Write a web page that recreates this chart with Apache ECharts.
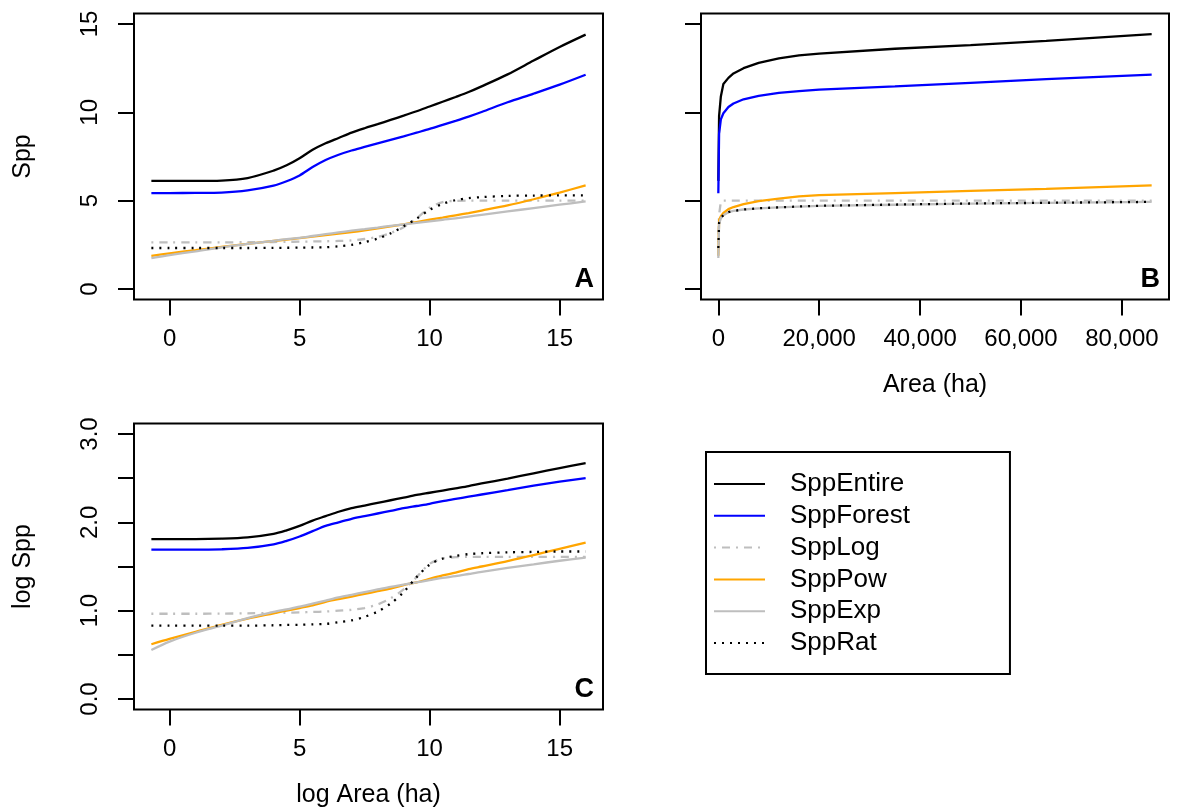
<!DOCTYPE html>
<html><head><meta charset="utf-8">
<script src="https://cdn.jsdelivr.net/npm/echarts@6/dist/echarts.min.js"></script>
<style>html,body{margin:0;padding:0;background:#fff}#c{width:1181px;height:810px}</style>
</head><body><div id="c"></div>
<script>
// ---------- data ----------
const seriesNames = ['SppEntire', 'SppForest', 'SppLog', 'SppPow', 'SppExp', 'SppRat'];

// Panels A and C: x = log Area (ha)
const logArea = [-0.7, 0, 1, 2, 3, 4, 4.5, 5, 5.5, 6, 6.5, 7, 7.5, 8, 8.5, 9, 9.5, 10, 10.5, 11, 11.5, 12, 13, 14, 15, 16];

// Panel A: Spp
const A_Entire = [6.12, 6.12, 6.12, 6.14, 6.28, 6.7, 7.0, 7.4, 7.88, 8.25, 8.55, 8.85, 9.1, 9.33, 9.57, 9.81, 10.06, 10.33, 10.6, 10.87, 11.15, 11.47, 12.15, 12.93, 13.7, 14.4];
const A_Forest = [5.43, 5.43, 5.44, 5.46, 5.58, 5.85, 6.1, 6.43, 6.9, 7.3, 7.6, 7.84, 8.04, 8.24, 8.44, 8.64, 8.85, 9.06, 9.29, 9.52, 9.76, 10.02, 10.57, 11.06, 11.57, 12.13];
const A_Log    = [2.64, 2.64, 2.64, 2.64, 2.65, 2.66, 2.67, 2.68, 2.69, 2.7, 2.72, 2.75, 2.83, 2.95, 3.17, 3.5, 4.0, 4.6, 4.92, 4.99, 5.0, 5.0, 5.0, 5.0, 5.0, 5.0];
const A_Pow    = [1.88, 2.02, 2.2, 2.38, 2.55, 2.72, 2.8, 2.88, 2.96, 3.05, 3.13, 3.22, 3.32, 3.43, 3.54, 3.66, 3.79, 3.92, 4.04, 4.17, 4.3, 4.44, 4.73, 5.08, 5.46, 5.86];
const A_Exp    = [1.75, 1.92, 2.13, 2.36, 2.55, 2.73, 2.82, 2.9, 3.0, 3.1, 3.2, 3.3, 3.39, 3.48, 3.57, 3.65, 3.74, 3.83, 3.92, 4.0, 4.1, 4.2, 4.39, 4.58, 4.77, 4.96];
const A_Rat    = [2.32, 2.32, 2.32, 2.32, 2.32, 2.33, 2.335, 2.34, 2.35, 2.36, 2.42, 2.5, 2.65, 2.85, 3.15, 3.55, 3.98, 4.48, 4.82, 5.03, 5.14, 5.2, 5.27, 5.29, 5.3, 5.3];

// Panel C: log Spp
const C_Entire = [1.81, 1.81, 1.81, 1.815, 1.83, 1.87, 1.91, 1.96, 2.02, 2.07, 2.12, 2.16, 2.19, 2.22, 2.25, 2.28, 2.31, 2.335, 2.36, 2.385, 2.41, 2.44, 2.495, 2.555, 2.615, 2.67];
const C_Forest = [1.69, 1.69, 1.69, 1.695, 1.71, 1.75, 1.79, 1.84, 1.9, 1.96, 2.0, 2.04, 2.07, 2.1, 2.13, 2.16, 2.185, 2.21, 2.24, 2.265, 2.29, 2.315, 2.365, 2.415, 2.46, 2.5];
const C_Log    = [0.965, 0.965, 0.965, 0.967, 0.97, 0.975, 0.977, 0.98, 0.985, 0.99, 1.0, 1.01, 1.03, 1.07, 1.14, 1.24, 1.38, 1.53, 1.59, 1.605, 1.61, 1.61, 1.61, 1.61, 1.61, 1.61];
const C_Pow    = [0.62, 0.68, 0.76, 0.84, 0.91, 0.97, 1.0, 1.03, 1.06, 1.1, 1.13, 1.16, 1.19, 1.22, 1.25, 1.29, 1.32, 1.36, 1.4, 1.43, 1.47, 1.5, 1.56, 1.63, 1.7, 1.77];
const C_Exp    = [0.555, 0.65, 0.75, 0.83, 0.915, 0.985, 1.015, 1.045, 1.08, 1.115, 1.15, 1.18, 1.21, 1.24, 1.27, 1.295, 1.32, 1.345, 1.37, 1.39, 1.415, 1.44, 1.485, 1.525, 1.565, 1.6];
const C_Rat    = [0.83, 0.83, 0.83, 0.83, 0.83, 0.835, 0.838, 0.84, 0.845, 0.85, 0.87, 0.89, 0.93, 0.99, 1.08, 1.21, 1.38, 1.52, 1.59, 1.62, 1.64, 1.65, 1.66, 1.665, 1.67, 1.67];

// Panel B: x = Area (ha)
const area = [0.5, 150, 500, 1000, 2000, 3000, 5000, 8000, 12000, 16000, 20000, 35000, 50000, 65000, 85900];
const B_Entire = [6.12, 9.8, 10.9, 11.6, 11.95, 12.2, 12.5, 12.8, 13.05, 13.22, 13.32, 13.6, 13.8, 14.05, 14.43];
const B_Forest = [5.42, 8.8, 9.6, 9.95, 10.3, 10.5, 10.74, 10.93, 11.1, 11.2, 11.28, 11.47, 11.67, 11.88, 12.13];
const B_Log    = [2.64, 4.2, 4.95, 5.0, 5.0, 5.0, 5.0, 5.0, 5.0, 5.0, 5.0, 5.0, 5.0, 5.0, 5.0];
const B_Pow    = [1.88, 3.9, 4.12, 4.3, 4.52, 4.64, 4.8, 4.97, 5.12, 5.24, 5.31, 5.43, 5.55, 5.67, 5.86];
const B_Exp    = [1.75, 3.7, 4.0, 4.18, 4.35, 4.42, 4.5, 4.56, 4.62, 4.66, 4.7, 4.77, 4.83, 4.88, 4.93];
const B_Rat    = [2.32, 3.75, 4.02, 4.18, 4.35, 4.42, 4.5, 4.57, 4.62, 4.67, 4.71, 4.78, 4.84, 4.88, 4.93];

// tick values
const ticksLogArea = [0, 5, 10, 15];
const ticksArea = [0, 20000, 40000, 60000, 80000];
const ticksSpp = [0, 5, 10, 15];
const ticksLogSppMarks = [0, 0.5, 1, 1.5, 2, 2.5, 3];
const ticksLogSppLabels = [0, 1, 2, 3];
const panelLetters = ['A', 'B', 'C'];

// ---------- layout / style ----------
const FONT = '"Liberation Sans", Arial, Helvetica, sans-serif';
const FS = 24;
const grids = [
  { left: 134, top: 13.4, width: 469, height: 286.2 },
  { left: 701, top: 13.4, width: 468, height: 286.2 },
  { left: 134, top: 423.4, width: 469, height: 286.2 }
];
const styles = {
  SppEntire: { color: '#000000', type: 'solid' },
  SppForest: { color: '#0000ff', type: 'solid' },
  SppLog:    { color: '#bebebe', type: [2, 6, 8, 6] },
  SppPow:    { color: '#ffa500', type: 'solid' },
  SppExp:    { color: '#bebebe', type: 'solid' },
  SppRat:    { color: '#000000', type: [2, 6] }
};

function pad(lo, hi) { const d = (hi - lo) * 0.04; return [lo - d, hi + d]; }
const xLogR = pad(-0.7, 16), xAreaR = pad(0, 85900), ySppR = pad(0, 15), yLogR = pad(0, 3);

const tickStyle = { show: true, inside: false, length: 16, lineStyle: { color: '#000', width: 2 } };
const labelBase = { fontSize: FS, color: '#000', fontFamily: FONT };

function xAxis(gi, range, ticks, name, fmt) {
  return {
    gridIndex: gi, type: 'value', position: 'bottom', min: range[0], max: range[1],
    axisLine: { show: false, onZero: false }, splitLine: { show: false },
    axisTick: Object.assign({ customValues: ticks }, tickStyle),
    axisLabel: Object.assign({ customValues: ticks, margin: 28, formatter: fmt }, labelBase),
    name: name, nameLocation: 'middle', nameGap: 73,
    nameTextStyle: { fontSize: 25, color: '#000', fontFamily: FONT }
  };
}
function yAxis(gi, range, marks, labels, name, showLabels, fmt) {
  return {
    gridIndex: gi, type: 'value', position: 'left', min: range[0], max: range[1],
    axisLine: { show: false, onZero: false }, splitLine: { show: false },
    axisTick: Object.assign({ customValues: marks }, tickStyle),
    axisLabel: Object.assign({ show: showLabels, customValues: labels, rotate: 90, margin: 32, formatter: fmt }, labelBase),
    name: name, nameLocation: 'middle', nameGap: 98, nameRotate: 90,
    nameTextStyle: { fontSize: 25, color: '#000', fontFamily: FONT }
  };
}

const panelData = [
  { xs: logArea, ys: [A_Entire, A_Forest, A_Log, A_Pow, A_Exp, A_Rat], smooth: 0.3 },
  { xs: area,    ys: [B_Entire, B_Forest, B_Log, B_Pow, B_Exp, B_Rat], smooth: false },
  { xs: logArea, ys: [C_Entire, C_Forest, C_Log, C_Pow, C_Exp, C_Rat], smooth: 0.3 }
];

const series = [];
panelData.forEach((p, gi) => {
  seriesNames.forEach((nm, si) => {
    const st = styles[nm];
    series.push({
      name: nm, type: 'line', xAxisIndex: gi, yAxisIndex: gi,
      data: p.xs.map((x, i) => [x, p.ys[si][i]]),
      symbol: 'none', smooth: p.smooth,
      lineStyle: { color: st.color, width: 2.3, type: st.type },
      itemStyle: { color: st.color },
      emphasis: { disabled: true }, silent: true
    });
  });
});

const letterGraphics = panelLetters.map((L, i) => ({
  type: 'text',
  x: grids[i].left + grids[i].width - 9,
  y: grids[i].top + grids[i].height - 7,
  style: { text: L, font: 'bold 27px ' + FONT, fill: '#000', textAlign: 'right', textVerticalAlign: 'bottom' },
  z: 10
}));

const option = {
  animation: false,
  backgroundColor: '#fff',
  grid: grids.map(g => Object.assign({ show: true, borderColor: '#000', borderWidth: 2, backgroundColor: 'transparent', containLabel: false }, g)),
  xAxis: [
    xAxis(0, xLogR, ticksLogArea, '', v => String(v)),
    xAxis(1, xAreaR, ticksArea, 'Area (ha)', v => v.toLocaleString('en-US')),
    xAxis(2, xLogR, ticksLogArea, 'log Area (ha)', v => String(v))
  ],
  yAxis: [
    yAxis(0, ySppR, ticksSpp, ticksSpp, 'Spp', true, v => String(v)),
    yAxis(1, ySppR, ticksSpp, ticksSpp, '', false, v => String(v)),
    yAxis(2, yLogR, ticksLogSppMarks, ticksLogSppLabels, 'log Spp', true, v => v.toFixed(1))
  ],
  legend: {
    data: seriesNames, orient: 'vertical', left: 706, top: 452,
    borderColor: '#000', borderWidth: 2, borderRadius: 0,
    padding: [18, 100, 17, 7], itemWidth: 51, itemHeight: 14, itemGap: 3.8,
    selectedMode: false,
    itemStyle: { opacity: 0 },
    lineStyle: { width: 2 },
    textStyle: { fontSize: 26, color: '#000', fontFamily: FONT, lineHeight: 28, padding: [0, 0, 0, 20] }
  },
  graphic: letterGraphics,
  series: series
};

const chart = echarts.init(document.getElementById('c'), null, { renderer: 'canvas' });
chart.setOption(option);
</script></body></html>
